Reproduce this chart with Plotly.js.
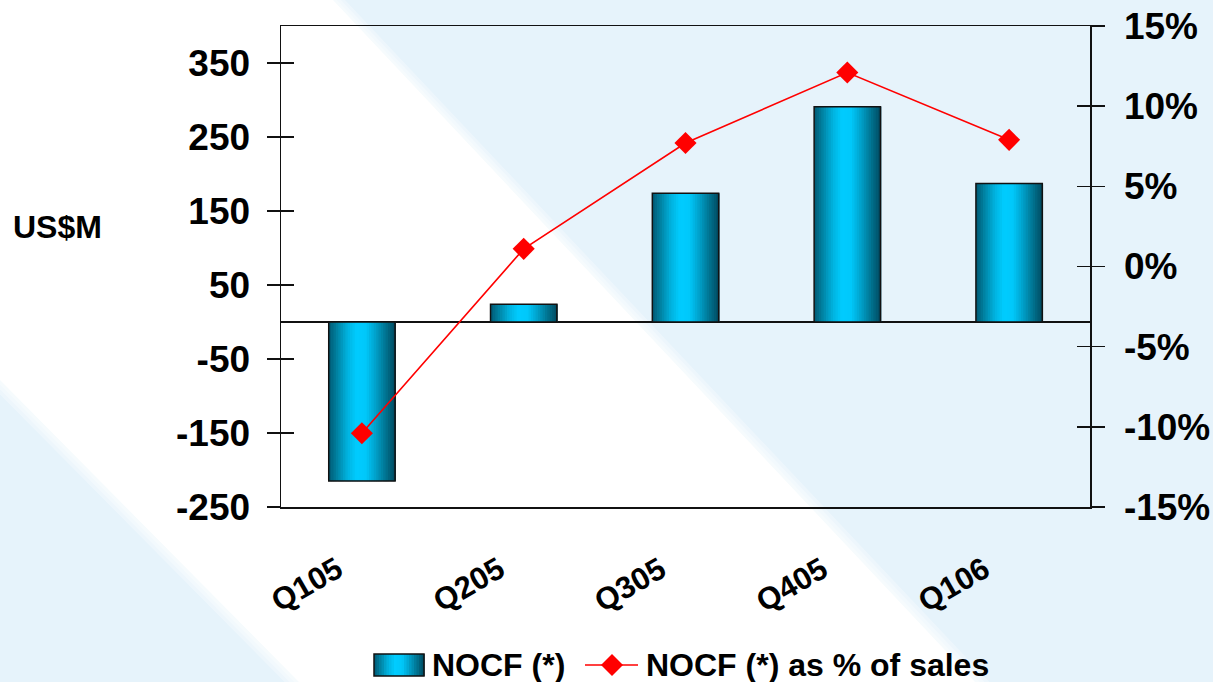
<!DOCTYPE html>
<html>
<head>
<meta charset="utf-8">
<script src="https://cdn.plot.ly/plotly-3.0.1.min.js"></script>
<style>
  html, body { margin: 0; padding: 0; background: #e6f3fb; }
  #chart { width: 1213px; height: 682px; }
</style>
</head>
<body>
<div id="chart"></div>
<script>
// Quarterly net operating cash flow (US$M) and the same flow as a share of sales
const quarters = ['Q105', 'Q205', 'Q305', 'Q405', 'Q106'];
const nocf = [-215, 24, 174, 291, 187];
const nocfPctOfSales = [-10.4, 1.1, 7.7, 12.1, 7.9];

const leftTickVals = [-250, -150, -50, 50, 150, 250, 350];
const leftTickText = ['-250', '-150', '-50', '50', '150', '250', '350'];
const rightTickVals = [-15, -10, -5, 0, 5, 10, 15];
const rightTickText = ['-15%', '-10%', '-5%', '0%', '5%', '10%', '15%'];

const barName = 'NOCF (*)';
const lineName = 'NOCF (*) as % of sales';
const unitLabel = 'US$M';

// ---- page geometry and styling ----
const W = 1213, H = 682;
const M = { l: 281, r: 123, t: 26, b: 175 };
const PW = W - M.l - M.r, PH = H - M.t - M.b;
const px = x => (x - M.l) / PW;          // page pixel -> paper x
const py = y => (H - M.b - y) / PH;      // page pixel -> paper y

const FONT = 'Liberation Sans, Arial, Helvetica, sans-serif';
const INK = '#111111';
const RED = '#ff0000';
const BAR_WIDTH = 0.41;

// cylinder shading across a bar, left edge to right edge
const shadeStops = [
  [0.00, [0, 88, 114]],
  [0.12, [0, 128, 160]],
  [0.28, [0, 178, 222]],
  [0.42, [0, 204, 255]],
  [0.56, [0, 200, 250]],
  [0.70, [0, 162, 204]],
  [0.85, [0, 118, 148]],
  [1.00, [0, 74, 96]]
];
function shadeAt(t) {
  for (let i = 1; i < shadeStops.length; i++) {
    const [t1, c1] = shadeStops[i];
    const [t0, c0] = shadeStops[i - 1];
    if (t <= t1) {
      const f = (t - t0) / (t1 - t0);
      const c = c0.map((v, k) => Math.round(v + (c1[k] - v) * f));
      return 'rgb(' + c.join(',') + ')';
    }
  }
  const c = shadeStops[shadeStops.length - 1][1];
  return 'rgb(' + c.join(',') + ')';
}

const STRIPS = 28;
const traces = [];
for (let i = 0; i < STRIPS; i++) {
  const w = BAR_WIDTH / STRIPS;
  traces.push({
    type: 'bar', x: quarters, y: nocf,
    offset: -BAR_WIDTH / 2 + i * w,
    width: w * 1.35,
    marker: { color: shadeAt((i + 0.5) / STRIPS), line: { width: 0 } },
    showlegend: false, hoverinfo: 'skip', name: barName
  });
}
// bar outline
traces.push({
  type: 'bar', x: quarters, y: nocf, name: barName,
  offset: -BAR_WIDTH / 2, width: BAR_WIDTH,
  marker: { color: 'rgba(0,0,0,0)', line: { color: INK, width: 1.5 } },
  showlegend: false
});
// share of sales on the right axis
traces.push({
  type: 'scatter', mode: 'lines+markers', x: quarters, y: nocfPctOfSales,
  yaxis: 'y2', name: lineName,
  line: { color: RED, width: 1.6 },
  marker: { symbol: 'diamond', size: 17, color: RED },
  showlegend: false
});
// carriers for the inward half of the crossing tick marks
traces.push({ type: 'scatter', mode: 'markers', x: quarters, y: nocf, yaxis: 'y3',
  marker: { opacity: 0 }, showlegend: false, hoverinfo: 'skip' });
traces.push({ type: 'scatter', mode: 'markers', x: quarters, y: nocfPctOfSales, yaxis: 'y4',
  marker: { opacity: 0 }, showlegend: false, hoverinfo: 'skip' });

const tickFontBig = { family: FONT, size: 37, color: '#000', weight: 'bold' };

// background: pale blue with a soft-edged white diagonal sweep
const polyPath = pts => 'M' + pts.map(p => px(p[0]).toFixed(5) + ',' + py(p[1]).toFixed(5)).join(' L') + ' Z';
const band = g => [[0, 0], [333 + g, 0], [975 + g * 1.2, 682], [299 - g * 1.2, 682], [0, 380 + g * 1.2]];
const shapes = [];
[12, 8, 4].forEach(g => shapes.push({
  type: 'path', xref: 'paper', yref: 'paper', layer: 'below', path: polyPath(band(g)),
  fillcolor: 'rgba(255,255,255,0.3)', line: { width: 0 }
}));
shapes.push({ type: 'path', xref: 'paper', yref: 'paper', layer: 'below',
  path: polyPath(band(0)), fillcolor: '#ffffff', line: { width: 0 } });

// legend swatch for the bars: shaded box
const sw = { x0: 374, x1: 424, y0: 654, y1: 676 };
const SW_STRIPS = 20;
for (let i = 0; i < SW_STRIPS; i++) {
  const a = sw.x0 + (sw.x1 - sw.x0) * i / SW_STRIPS;
  const b = sw.x0 + (sw.x1 - sw.x0) * (i + 1) / SW_STRIPS + 0.6;
  shapes.push({ type: 'rect', xref: 'paper', yref: 'paper',
    x0: px(a), x1: px(b), y0: py(sw.y0), y1: py(sw.y1),
    fillcolor: shadeAt((i + 0.5) / SW_STRIPS), line: { width: 0 } });
}
shapes.push({ type: 'rect', xref: 'paper', yref: 'paper',
  x0: px(sw.x0), x1: px(sw.x1), y0: py(sw.y0), y1: py(sw.y1),
  fillcolor: 'rgba(0,0,0,0)', line: { color: INK, width: 1.5 } });
// legend swatch for the line: segment with a diamond
const ly = 665, lc = 612, dh = 11;
shapes.push({ type: 'line', xref: 'paper', yref: 'paper',
  x0: px(585), x1: px(638), y0: py(ly), y1: py(ly), line: { color: RED, width: 1.6 } });
shapes.push({ type: 'path', xref: 'paper', yref: 'paper',
  path: polyPath([[lc - dh, ly], [lc, ly - dh], [lc + dh, ly], [lc, ly + dh]]),
  fillcolor: RED, line: { width: 0 } });

const legendFont = { family: FONT, size: 32, color: '#000', weight: 'bold' };
const annotations = [
  { text: unitLabel, xref: 'paper', yref: 'paper', x: px(57), y: py(227),
    xanchor: 'center', yanchor: 'middle', showarrow: false,
    font: { family: FONT, size: 32, color: '#000', weight: 'bold' } },
  { text: barName, xref: 'paper', yref: 'paper', x: px(430), y: py(ly),
    xanchor: 'left', yanchor: 'middle', showarrow: false, font: legendFont },
  { text: lineName, xref: 'paper', yref: 'paper', x: px(644), y: py(ly),
    xanchor: 'left', yanchor: 'middle', showarrow: false, font: legendFont }
];
// slanted category labels under the plot
quarters.forEach(q => annotations.push({
  text: q, xref: 'x', yref: 'paper', x: q, y: py(549),
  xanchor: 'right', yanchor: 'top', xshift: -12, textangle: -30,
  showarrow: false, borderpad: 0,
  font: { family: FONT, size: 31, color: '#000', weight: 'bold' }
}));

const layout = {
  width: W, height: H,
  margin: M,
  paper_bgcolor: '#e6f3fb',
  plot_bgcolor: 'rgba(0,0,0,0)',
  barmode: 'overlay',
  showlegend: false,
  font: { family: FONT, color: '#000' },
  xaxis: {
    type: 'category', range: [-0.5, 4.5],
    showline: true, linecolor: INK, linewidth: 1.5, mirror: true,
    ticks: '', showgrid: false, zeroline: false, showticklabels: false
  },
  yaxis: {
    range: [-250, 400], tickvals: leftTickVals, ticktext: leftTickText,
    ticks: 'outside', ticklen: 13, tickwidth: 1.5, tickcolor: INK,
    showline: true, linecolor: INK, linewidth: 1.5,
    zeroline: true, zerolinecolor: INK, zerolinewidth: 1.5,
    showgrid: false, tickfont: tickFontBig, ticklabelstandoff: 9
  },
  yaxis2: {
    overlaying: 'y', side: 'right',
    range: [-15, 15], tickvals: rightTickVals, ticktext: rightTickText,
    ticks: 'outside', ticklen: 13, tickwidth: 1.5, tickcolor: INK,
    showline: true, linecolor: INK, linewidth: 1.5,
    zeroline: false, showgrid: false, tickfont: tickFontBig, ticklabelstandoff: 12
  },
  yaxis3: {
    overlaying: 'y', side: 'left', range: [-250, 400], tickvals: leftTickVals,
    ticks: 'inside', ticklen: 13, tickwidth: 1.5, tickcolor: INK,
    showticklabels: false, showline: false, showgrid: false, zeroline: false
  },
  yaxis4: {
    overlaying: 'y', side: 'right', range: [-15, 15], tickvals: rightTickVals,
    ticks: 'inside', ticklen: 13, tickwidth: 1.5, tickcolor: INK,
    showticklabels: false, showline: false, showgrid: false, zeroline: false
  },
  shapes: shapes,
  annotations: annotations
};

Plotly.newPlot('chart', traces, layout, { displayModeBar: false, staticPlot: true });
</script>
</body>
</html>
